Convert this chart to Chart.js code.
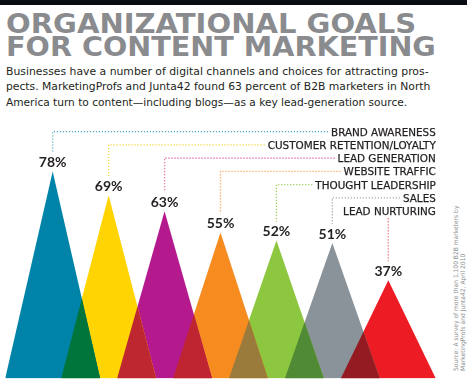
<!DOCTYPE html>
<html><head><meta charset="utf-8">
<script src="https://cdn.jsdelivr.net/npm/chart.js@4"></script>
<style>
html,body{margin:0;padding:0;background:#fff;width:467px;height:380px;overflow:hidden;}
#c{position:absolute;left:0;top:0;}
.t{position:absolute;white-space:nowrap;transform-origin:0 0;line-height:1;}
.bar{position:absolute;left:0;top:0;width:467px;height:4.5px;background:#0a0d14;}
.title{font-family:'DejaVu Sans';font-weight:bold;font-size:26.5px;color:#8a8b8e;left:5.5px;}
.body{font-family:'DejaVu Sans';font-size:10px;color:#231f20;left:6px;}
.src{font-family:'DejaVu Sans';font-size:6.3px;color:#8d8f92;line-height:6.6px;}
</style></head>
<body>
<div class="bar"></div>
<div class="t title" style="top:11.1px" data-w="410">ORGANIZATIONAL GOALS</div>
<div class="t title" style="top:34.4px" data-w="430">FOR CONTENT MARKETING</div>
<div class="t body" style="top:66.5px" data-w="422.5">Businesses have a number of digital channels and choices for attracting pros-</div>
<div class="t body" style="top:82.1px" data-w="424">pects. MarketingProfs and Junta42 found 63 percent of B2B marketers in North</div>
<div class="t body" style="top:97.6px" data-w="401.5">America turn to content—including blogs—as a key lead-generation source.</div>
<div class="t src" style="left:453.3px;top:371px" data-w="165" data-rot="1">Source: A survey of more than 1,100 B2B marketers by</div>
<div class="t src" style="left:459.9px;top:371px" data-w="117" data-rot="1">MarketingProfs and Junta42, April 2010</div>
<canvas id="c" width="467" height="380"></canvas>
<script>
// ---- data ----
const categories = ['BRAND AWARENESS', 'CUSTOMER RETENTION/LOYALTY', 'LEAD GENERATION', 'WEBSITE TRAFFIC', 'THOUGHT LEADERSHIP', 'SALES', 'LEAD NURTURING'];
const values = [78, 69, 63, 55, 52, 51, 37];
const valueLabels = ['78%', '69%', '63%', '55%', '52%', '51%', '37%'];
const colors = ['#0083a9', '#ffd400', '#b5198e', '#f68b1f', '#8dc63f', '#8a9399', '#ed1c24'];
const overlapColors = ['#00753b', '#be2630', '#bf2530', '#9a7b3b', '#508a35', '#931b21'];
const dotColors = ['#4aa2bf', '#f5d53a', '#dc4f93', '#f6a457', '#a0cc5a', '#a3a8ad', '#ef6a7a'];

// ---- layout helpers for header text ----
function fit(){
  document.querySelectorAll('[data-w]').forEach(el=>{
    const w = el.offsetWidth;
    const s = parseFloat(el.dataset.w)/w;
    el.style.transform = (el.dataset.rot ? 'rotate(-90deg) ' : '') + 'scaleX(' + s + ')';
  });
}
fit();
if (document.fonts && document.fonts.ready) document.fonts.ready.then(fit);

// ---- chart ----
const HW = 0.849; // half base width in category units
const datasets = [];
values.forEach((v, i) => {
  datasets.push({
    data: [{x: i - HW, y: 0}, {x: i, y: v}, {x: i + HW, y: 0}],
    backgroundColor: colors[i], borderWidth: 0, pointRadius: 0, fill: 'origin', order: 1
  });
});
for (let i = 0; i < values.length - 1; i++) {
  const vL = values[i], vR = values[i + 1];
  const a = i + HW, b = i + 1 - HW;
  const xc = (vL * a + vR * b) / (vL + vR);
  const yc = vL * (a - xc) / HW;
  datasets.push({
    data: [{x: b, y: 0}, {x: xc, y: yc}, {x: a, y: 0}],
    backgroundColor: overlapColors[i], borderWidth: 0, pointRadius: 0, fill: 'origin', order: 0
  });
}

const labelPlugin = {
  id: 'labels',
  afterDraw(chart) {
    const ctx = chart.ctx, xs = chart.scales.x, ys = chart.scales.y;
    const rightX = xs.getPixelForValue(values.length - 1 + HW);
    const rowTop = 131.7, rowGap = 13.25;
    ctx.save();
    values.forEach((v, i) => {
      const ax = xs.getPixelForValue(i), ay = ys.getPixelForValue(v);
      const rowY = rowTop + i * rowGap;
      // category label
      ctx.font = '10.4px "DejaVu Sans"';
      ctx.fillStyle = '#231f20';
      ctx.textAlign = 'right';
      ctx.textBaseline = 'alphabetic';
      ctx.fillText(categories[i], rightX, rowY + 4);
      ctx.strokeStyle = '#231f20'; ctx.lineWidth = 0.25;
      ctx.strokeText(categories[i], rightX, rowY + 4);
      const labelStart = rightX - ctx.measureText(categories[i]).width;
      // dotted leader
      ctx.strokeStyle = dotColors[i];
      ctx.lineWidth = 1.3;
      ctx.setLineDash([1.2, 1.8]);
      ctx.beginPath();
      if (ax < labelStart - 6) {
        ctx.moveTo(labelStart - 3, rowY);
        ctx.lineTo(ax, rowY);
        ctx.lineTo(ax, ay - 19);
      } else {
        ctx.moveTo(ax, rowY + 7);
        ctx.lineTo(ax, ay - 19);
      }
      ctx.stroke();
      ctx.setLineDash([]);
      // value label
      ctx.font = 'bold 14px Lato';
      ctx.fillStyle = '#231f20';
      ctx.textAlign = 'center';
      ctx.fillText(valueLabels[i], ax, ay - 4.5);
    });
    ctx.restore();
  }
};

new Chart(document.getElementById('c'), {
  type: 'line',
  data: { datasets },
  options: {
    responsive: false, animation: false, devicePixelRatio: 1,
    layout: { padding: { top: 113, bottom: 1.5, left: 0, right: 0 } },
    elements: { line: { tension: 0 } },
    plugins: { legend: { display: false }, tooltip: { enabled: false }, title: { display: false } },
    scales: {
      x: { type: 'linear', min: -0.942, max: 7.407, display: false },
      y: { min: 0, max: 100, display: false }
    }
  },
  plugins: [labelPlugin]
});
</script>
</body></html>
